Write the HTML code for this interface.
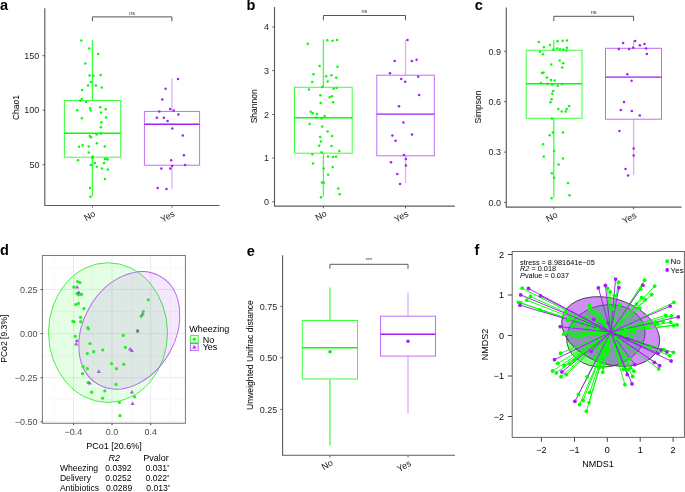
<!DOCTYPE html>
<html><head><meta charset="utf-8"><style>
html,body{margin:0;padding:0;background:#fff;}
svg{display:block;will-change:transform;}
svg text{font-family:"Liberation Sans",sans-serif;}
</style></head><body>
<svg width="685" height="492" viewBox="0 0 685 492" font-family="Liberation Sans, sans-serif">
<rect width="685" height="492" fill="#fff"/>
<text x="0" y="10" font-size="14.5" font-weight="bold" fill="#000">a</text>
<line x1="92.4" y1="40.2" x2="92.4" y2="100.5" stroke="#40ff40" stroke-width="1.3" />
<line x1="92.4" y1="157.2" x2="92.4" y2="196.6" stroke="#40ff40" stroke-width="1.3" />
<rect x="64.4" y="100.5" width="56.3" height="56.7" fill="none" stroke="#3cff3c" stroke-width="1"/>
<line x1="64.4" y1="133.2" x2="120.7" y2="133.2" stroke="#00ff00" stroke-width="1.4" />
<circle cx="81.3" cy="40.6" r="1.25" fill="#00ff00"/>
<circle cx="89.2" cy="48.6" r="1.25" fill="#00ff00"/>
<circle cx="98.1" cy="53.9" r="1.25" fill="#00ff00"/>
<circle cx="85.3" cy="63.6" r="1.25" fill="#00ff00"/>
<circle cx="89.6" cy="75.4" r="1.25" fill="#00ff00"/>
<circle cx="93.3" cy="75.8" r="1.25" fill="#00ff00"/>
<circle cx="100.6" cy="75" r="1.25" fill="#00ff00"/>
<circle cx="90.8" cy="81.9" r="1.25" fill="#00ff00"/>
<circle cx="88" cy="85.6" r="1.25" fill="#00ff00"/>
<circle cx="95.9" cy="85.6" r="1.25" fill="#00ff00"/>
<circle cx="101.8" cy="87.6" r="1.25" fill="#00ff00"/>
<circle cx="82.1" cy="90" r="1.25" fill="#00ff00"/>
<circle cx="81.7" cy="99" r="1.25" fill="#00ff00"/>
<circle cx="80.2" cy="100.7" r="1.25" fill="#00ff00"/>
<circle cx="86.1" cy="102.1" r="1.25" fill="#00ff00"/>
<circle cx="77.2" cy="110.2" r="1.25" fill="#00ff00"/>
<circle cx="90.2" cy="108.2" r="1.25" fill="#00ff00"/>
<circle cx="90.8" cy="110.6" r="1.25" fill="#00ff00"/>
<circle cx="100.2" cy="107.2" r="1.25" fill="#00ff00"/>
<circle cx="105.7" cy="109.2" r="1.25" fill="#00ff00"/>
<circle cx="101" cy="112.5" r="1.25" fill="#00ff00"/>
<circle cx="81.9" cy="118.2" r="1.25" fill="#00ff00"/>
<circle cx="106.1" cy="117.4" r="1.25" fill="#00ff00"/>
<circle cx="101.4" cy="122.2" r="1.25" fill="#00ff00"/>
<circle cx="100.8" cy="127.3" r="1.25" fill="#00ff00"/>
<circle cx="89.8" cy="136.1" r="1.25" fill="#00ff00"/>
<circle cx="91" cy="137.3" r="1.25" fill="#00ff00"/>
<circle cx="96.5" cy="134.6" r="1.25" fill="#00ff00"/>
<circle cx="101" cy="133.6" r="1.25" fill="#00ff00"/>
<circle cx="96.9" cy="143.2" r="1.25" fill="#00ff00"/>
<circle cx="82.7" cy="145.2" r="1.25" fill="#00ff00"/>
<circle cx="79" cy="146.8" r="1.25" fill="#00ff00"/>
<circle cx="88.8" cy="146.6" r="1.25" fill="#00ff00"/>
<circle cx="104.8" cy="146.6" r="1.25" fill="#00ff00"/>
<circle cx="88.8" cy="152.5" r="1.25" fill="#00ff00"/>
<circle cx="92.8" cy="156.6" r="1.25" fill="#00ff00"/>
<circle cx="92.4" cy="158" r="1.25" fill="#00ff00"/>
<circle cx="105" cy="159" r="1.25" fill="#00ff00"/>
<circle cx="107.7" cy="159.6" r="1.25" fill="#00ff00"/>
<circle cx="106.5" cy="158.4" r="1.25" fill="#00ff00"/>
<circle cx="78" cy="160.2" r="1.25" fill="#00ff00"/>
<circle cx="94.9" cy="163.1" r="1.25" fill="#00ff00"/>
<circle cx="104" cy="163.1" r="1.25" fill="#00ff00"/>
<circle cx="90.8" cy="165.1" r="1.25" fill="#00ff00"/>
<circle cx="96.9" cy="166.7" r="1.25" fill="#00ff00"/>
<circle cx="102" cy="168.6" r="1.25" fill="#00ff00"/>
<circle cx="107.9" cy="169.6" r="1.25" fill="#00ff00"/>
<circle cx="105" cy="179.1" r="1.25" fill="#00ff00"/>
<circle cx="90" cy="188.1" r="1.25" fill="#00ff00"/>
<circle cx="90.4" cy="196.8" r="1.25" fill="#00ff00"/>
<line x1="171.9" y1="78.5" x2="171.9" y2="111.4" stroke="#dbaef8" stroke-width="1.3" />
<line x1="171.9" y1="165.2" x2="171.9" y2="188.8" stroke="#dbaef8" stroke-width="1.3" />
<rect x="144.4" y="111.4" width="55.2" height="53.8" fill="none" stroke="#bf6ff3" stroke-width="1"/>
<line x1="144.4" y1="124.3" x2="199.6" y2="124.3" stroke="#a020f0" stroke-width="1.4" />
<circle cx="178" cy="78.9" r="1.25" fill="#a020f0"/>
<circle cx="165.6" cy="88.8" r="1.25" fill="#a020f0"/>
<circle cx="162.3" cy="99.5" r="1.25" fill="#a020f0"/>
<circle cx="170.1" cy="108.9" r="1.25" fill="#a020f0"/>
<circle cx="173.7" cy="110.5" r="1.25" fill="#a020f0"/>
<circle cx="159.3" cy="111.6" r="1.25" fill="#a020f0"/>
<circle cx="178.4" cy="114.5" r="1.25" fill="#a020f0"/>
<circle cx="156.9" cy="117.8" r="1.25" fill="#a020f0"/>
<circle cx="163.8" cy="117.8" r="1.25" fill="#a020f0"/>
<circle cx="167.6" cy="121" r="1.25" fill="#a020f0"/>
<circle cx="172.3" cy="128.4" r="1.25" fill="#a020f0"/>
<circle cx="182.8" cy="135.5" r="1.25" fill="#a020f0"/>
<circle cx="183.9" cy="155.2" r="1.25" fill="#a020f0"/>
<circle cx="171.2" cy="160.3" r="1.25" fill="#a020f0"/>
<circle cx="185.1" cy="165" r="1.25" fill="#a020f0"/>
<circle cx="172.1" cy="166.1" r="1.25" fill="#a020f0"/>
<circle cx="161.4" cy="168.4" r="1.25" fill="#a020f0"/>
<circle cx="170.3" cy="168.4" r="1.25" fill="#a020f0"/>
<circle cx="157.7" cy="187.9" r="1.25" fill="#a020f0"/>
<circle cx="166.5" cy="189.1" r="1.25" fill="#a020f0"/>
<path d="M44.8,8.2 V205.45 H219.7" fill="none" stroke="#5c5c5c" stroke-width="1.15"/>
<line x1="42.6" y1="55.7" x2="44.8" y2="55.7" stroke="#5c5c5c" stroke-width="1" />
<text x="39.4" y="58.9" font-size="9" text-anchor="end" fill="#1e1e1e" >150</text>
<line x1="42.6" y1="110.2" x2="44.8" y2="110.2" stroke="#5c5c5c" stroke-width="1" />
<text x="39.4" y="113.4" font-size="9" text-anchor="end" fill="#1e1e1e" >100</text>
<line x1="42.6" y1="164.7" x2="44.8" y2="164.7" stroke="#5c5c5c" stroke-width="1" />
<text x="39.4" y="167.9" font-size="9" text-anchor="end" fill="#1e1e1e" >50</text>
<line x1="92.4" y1="205.45" x2="92.4" y2="207.65" stroke="#5c5c5c" stroke-width="1" />
<line x1="171.9" y1="205.45" x2="171.9" y2="207.65" stroke="#5c5c5c" stroke-width="1" />
<text transform="translate(15.7,107.5) rotate(-90)" x="0" y="0" font-size="8.5" text-anchor="middle" dominant-baseline="central" fill="#000" >Chao1</text>
<path d="M92.4,21.3 V16.9 H171.9 V21.3" fill="none" stroke="#555" stroke-width="1"/>
<text x="132.15" y="14.6" font-size="5.5" text-anchor="middle" fill="#333" >ns</text>
<text transform="translate(96.2,215.5) rotate(-30)" x="0" y="0" font-size="9" text-anchor="end" fill="#1e1e1e">No</text>
<text transform="translate(175.5,215.5) rotate(-30)" x="0" y="0" font-size="9" text-anchor="end" fill="#1e1e1e">Yes</text>
<text x="246.4" y="10" font-size="14.5" font-weight="bold" fill="#000">b</text>
<line x1="323.4" y1="39.3" x2="323.4" y2="87.3" stroke="#40ff40" stroke-width="1.3" />
<line x1="323.4" y1="153.2" x2="323.4" y2="196.6" stroke="#40ff40" stroke-width="1.3" />
<rect x="294.5" y="87.3" width="57.7" height="65.9" fill="none" stroke="#3cff3c" stroke-width="1"/>
<line x1="294.5" y1="117.8" x2="352.2" y2="117.8" stroke="#00ff00" stroke-width="1.4" />
<circle cx="307.8" cy="43.7" r="1.25" fill="#00ff00"/>
<circle cx="327.3" cy="40.3" r="1.25" fill="#00ff00"/>
<circle cx="332.6" cy="40.7" r="1.25" fill="#00ff00"/>
<circle cx="337.1" cy="39.9" r="1.25" fill="#00ff00"/>
<circle cx="319.6" cy="66.1" r="1.25" fill="#00ff00"/>
<circle cx="337.5" cy="66.7" r="1.25" fill="#00ff00"/>
<circle cx="313.5" cy="74.2" r="1.25" fill="#00ff00"/>
<circle cx="326.1" cy="76.3" r="1.25" fill="#00ff00"/>
<circle cx="331.4" cy="75.2" r="1.25" fill="#00ff00"/>
<circle cx="336.2" cy="77.7" r="1.25" fill="#00ff00"/>
<circle cx="312.2" cy="82" r="1.25" fill="#00ff00"/>
<circle cx="327.7" cy="81.4" r="1.25" fill="#00ff00"/>
<circle cx="322.2" cy="87" r="1.25" fill="#00ff00"/>
<circle cx="309" cy="89.5" r="1.25" fill="#00ff00"/>
<circle cx="333.6" cy="88.7" r="1.25" fill="#00ff00"/>
<circle cx="336.7" cy="87.9" r="1.25" fill="#00ff00"/>
<circle cx="320.4" cy="95.2" r="1.25" fill="#00ff00"/>
<circle cx="329.7" cy="97.2" r="1.25" fill="#00ff00"/>
<circle cx="332" cy="96.2" r="1.25" fill="#00ff00"/>
<circle cx="320.7" cy="103" r="1.25" fill="#00ff00"/>
<circle cx="333.1" cy="102.2" r="1.25" fill="#00ff00"/>
<circle cx="310.7" cy="111.7" r="1.25" fill="#00ff00"/>
<circle cx="312.8" cy="113.3" r="1.25" fill="#00ff00"/>
<circle cx="317" cy="113.9" r="1.25" fill="#00ff00"/>
<circle cx="324.6" cy="116" r="1.25" fill="#00ff00"/>
<circle cx="316.2" cy="117.6" r="1.25" fill="#00ff00"/>
<circle cx="321.5" cy="118.4" r="1.25" fill="#00ff00"/>
<circle cx="309.7" cy="124.1" r="1.25" fill="#00ff00"/>
<circle cx="322.2" cy="126.4" r="1.25" fill="#00ff00"/>
<circle cx="327.6" cy="131.4" r="1.25" fill="#00ff00"/>
<circle cx="332.1" cy="135.9" r="1.25" fill="#00ff00"/>
<circle cx="320.1" cy="136.9" r="1.25" fill="#00ff00"/>
<circle cx="320.9" cy="141.6" r="1.25" fill="#00ff00"/>
<circle cx="319.1" cy="145.7" r="1.25" fill="#00ff00"/>
<circle cx="331.5" cy="146.1" r="1.25" fill="#00ff00"/>
<circle cx="339.4" cy="150.9" r="1.25" fill="#00ff00"/>
<circle cx="321.6" cy="152.3" r="1.25" fill="#00ff00"/>
<circle cx="312.4" cy="154.2" r="1.25" fill="#00ff00"/>
<circle cx="328" cy="156.6" r="1.25" fill="#00ff00"/>
<circle cx="333.1" cy="157" r="1.25" fill="#00ff00"/>
<circle cx="336.1" cy="156.8" r="1.25" fill="#00ff00"/>
<circle cx="313" cy="163.5" r="1.25" fill="#00ff00"/>
<circle cx="323.7" cy="168.4" r="1.25" fill="#00ff00"/>
<circle cx="332.7" cy="167" r="1.25" fill="#00ff00"/>
<circle cx="328.2" cy="174.7" r="1.25" fill="#00ff00"/>
<circle cx="322" cy="182.4" r="1.25" fill="#00ff00"/>
<circle cx="323.8" cy="182.7" r="1.25" fill="#00ff00"/>
<circle cx="338.2" cy="188.4" r="1.25" fill="#00ff00"/>
<circle cx="339.7" cy="194.3" r="1.25" fill="#00ff00"/>
<circle cx="321" cy="197.2" r="1.25" fill="#00ff00"/>
<line x1="405.5" y1="40.1" x2="405.5" y2="75.2" stroke="#dbaef8" stroke-width="1.3" />
<line x1="405.5" y1="155.8" x2="405.5" y2="183.2" stroke="#dbaef8" stroke-width="1.3" />
<rect x="376.8" y="75.2" width="57.5" height="80.6" fill="none" stroke="#bf6ff3" stroke-width="1"/>
<line x1="376.8" y1="114.1" x2="434.3" y2="114.1" stroke="#a020f0" stroke-width="1.4" />
<circle cx="407.5" cy="40.1" r="1.25" fill="#a020f0"/>
<circle cx="394.7" cy="61.1" r="1.25" fill="#a020f0"/>
<circle cx="411.9" cy="61.1" r="1.25" fill="#a020f0"/>
<circle cx="416.6" cy="59.8" r="1.25" fill="#a020f0"/>
<circle cx="390" cy="73.2" r="1.25" fill="#a020f0"/>
<circle cx="401.2" cy="79" r="1.25" fill="#a020f0"/>
<circle cx="405.2" cy="81.7" r="1.25" fill="#a020f0"/>
<circle cx="418.2" cy="76.8" r="1.25" fill="#a020f0"/>
<circle cx="419.1" cy="94.9" r="1.25" fill="#a020f0"/>
<circle cx="399" cy="106.3" r="1.25" fill="#a020f0"/>
<circle cx="403.4" cy="122.5" r="1.25" fill="#a020f0"/>
<circle cx="392.4" cy="135.6" r="1.25" fill="#a020f0"/>
<circle cx="412" cy="134.4" r="1.25" fill="#a020f0"/>
<circle cx="395.6" cy="140.7" r="1.25" fill="#a020f0"/>
<circle cx="403.9" cy="155.1" r="1.25" fill="#a020f0"/>
<circle cx="405.9" cy="159" r="1.25" fill="#a020f0"/>
<circle cx="391" cy="162.2" r="1.25" fill="#a020f0"/>
<circle cx="405.9" cy="165.6" r="1.25" fill="#a020f0"/>
<circle cx="397.3" cy="173.9" r="1.25" fill="#a020f0"/>
<circle cx="400" cy="183.9" r="1.25" fill="#a020f0"/>
<path d="M274.5,7.1 V206.05 H454.9" fill="none" stroke="#5c5c5c" stroke-width="1.15"/>
<line x1="272.3" y1="27" x2="274.5" y2="27" stroke="#5c5c5c" stroke-width="1" />
<text x="269.1" y="30.2" font-size="9" text-anchor="end" fill="#1e1e1e" >4</text>
<line x1="272.3" y1="70.6" x2="274.5" y2="70.6" stroke="#5c5c5c" stroke-width="1" />
<text x="269.1" y="73.8" font-size="9" text-anchor="end" fill="#1e1e1e" >3</text>
<line x1="272.3" y1="114.5" x2="274.5" y2="114.5" stroke="#5c5c5c" stroke-width="1" />
<text x="269.1" y="117.7" font-size="9" text-anchor="end" fill="#1e1e1e" >2</text>
<line x1="272.3" y1="158" x2="274.5" y2="158" stroke="#5c5c5c" stroke-width="1" />
<text x="269.1" y="161.2" font-size="9" text-anchor="end" fill="#1e1e1e" >1</text>
<line x1="272.3" y1="201.8" x2="274.5" y2="201.8" stroke="#5c5c5c" stroke-width="1" />
<text x="269.1" y="205" font-size="9" text-anchor="end" fill="#1e1e1e" >0</text>
<line x1="323.4" y1="206.05" x2="323.4" y2="208.25" stroke="#5c5c5c" stroke-width="1" />
<line x1="405.5" y1="206.05" x2="405.5" y2="208.25" stroke="#5c5c5c" stroke-width="1" />
<text transform="translate(254.2,106.3) rotate(-90)" x="0" y="0" font-size="8.5" text-anchor="middle" dominant-baseline="central" fill="#000" >Shannon</text>
<path d="M323.4,20.3 V15.5 H405.5 V20.3" fill="none" stroke="#555" stroke-width="1"/>
<text x="364.45" y="13.2" font-size="5.5" text-anchor="middle" fill="#333" >ns</text>
<text transform="translate(327.4,215.2) rotate(-30)" x="0" y="0" font-size="9" text-anchor="end" fill="#1e1e1e">No</text>
<text transform="translate(409.2,215.5) rotate(-30)" x="0" y="0" font-size="9" text-anchor="end" fill="#1e1e1e">Yes</text>
<text x="474.7" y="10" font-size="14.5" font-weight="bold" fill="#000">c</text>
<line x1="553.8" y1="40.3" x2="553.8" y2="50.2" stroke="#40ff40" stroke-width="1.3" />
<line x1="553.8" y1="118.3" x2="553.8" y2="197.6" stroke="#40ff40" stroke-width="1.3" />
<rect x="526.2" y="50.2" width="55.8" height="68.1" fill="none" stroke="#3cff3c" stroke-width="1"/>
<line x1="526.2" y1="83.7" x2="582" y2="83.7" stroke="#00ff00" stroke-width="1.4" />
<circle cx="538.8" cy="42.1" r="1.25" fill="#00ff00"/>
<circle cx="543.9" cy="47.2" r="1.25" fill="#00ff00"/>
<circle cx="550" cy="45.1" r="1.25" fill="#00ff00"/>
<circle cx="557.5" cy="41.3" r="1.25" fill="#00ff00"/>
<circle cx="562.6" cy="40.7" r="1.25" fill="#00ff00"/>
<circle cx="566.9" cy="40.5" r="1.25" fill="#00ff00"/>
<circle cx="557.1" cy="48.4" r="1.25" fill="#00ff00"/>
<circle cx="553.4" cy="49.4" r="1.25" fill="#00ff00"/>
<circle cx="560" cy="49.2" r="1.25" fill="#00ff00"/>
<circle cx="563.2" cy="49.4" r="1.25" fill="#00ff00"/>
<circle cx="566.9" cy="47.8" r="1.25" fill="#00ff00"/>
<circle cx="566.5" cy="50.4" r="1.25" fill="#00ff00"/>
<circle cx="540" cy="51.7" r="1.25" fill="#00ff00"/>
<circle cx="542.9" cy="54.3" r="1.25" fill="#00ff00"/>
<circle cx="559.7" cy="60.4" r="1.25" fill="#00ff00"/>
<circle cx="563.2" cy="63.2" r="1.25" fill="#00ff00"/>
<circle cx="551.2" cy="64.5" r="1.25" fill="#00ff00"/>
<circle cx="562.2" cy="67.5" r="1.25" fill="#00ff00"/>
<circle cx="542" cy="73" r="1.25" fill="#00ff00"/>
<circle cx="543.5" cy="72.6" r="1.25" fill="#00ff00"/>
<circle cx="546.9" cy="77.5" r="1.25" fill="#00ff00"/>
<circle cx="551" cy="79.9" r="1.25" fill="#00ff00"/>
<circle cx="554.7" cy="80.5" r="1.25" fill="#00ff00"/>
<circle cx="541" cy="83" r="1.25" fill="#00ff00"/>
<circle cx="547.5" cy="84" r="1.25" fill="#00ff00"/>
<circle cx="552.2" cy="84.6" r="1.25" fill="#00ff00"/>
<circle cx="557.7" cy="85.8" r="1.25" fill="#00ff00"/>
<circle cx="562.2" cy="84" r="1.25" fill="#00ff00"/>
<circle cx="553.2" cy="91.1" r="1.25" fill="#00ff00"/>
<circle cx="552.2" cy="93.8" r="1.25" fill="#00ff00"/>
<circle cx="551.6" cy="99.2" r="1.25" fill="#00ff00"/>
<circle cx="550.5" cy="102.2" r="1.25" fill="#00ff00"/>
<circle cx="558.4" cy="108.9" r="1.25" fill="#00ff00"/>
<circle cx="561.7" cy="111.5" r="1.25" fill="#00ff00"/>
<circle cx="565.7" cy="111.5" r="1.25" fill="#00ff00"/>
<circle cx="566.7" cy="108.9" r="1.25" fill="#00ff00"/>
<circle cx="569.2" cy="106" r="1.25" fill="#00ff00"/>
<circle cx="551.9" cy="118.6" r="1.25" fill="#00ff00"/>
<circle cx="552.9" cy="132.6" r="1.25" fill="#00ff00"/>
<circle cx="549.7" cy="135.3" r="1.25" fill="#00ff00"/>
<circle cx="562.9" cy="132.4" r="1.25" fill="#00ff00"/>
<circle cx="543" cy="144.2" r="1.25" fill="#00ff00"/>
<circle cx="554.1" cy="150.9" r="1.25" fill="#00ff00"/>
<circle cx="543.8" cy="156.4" r="1.25" fill="#00ff00"/>
<circle cx="562.9" cy="158.5" r="1.25" fill="#00ff00"/>
<circle cx="558.6" cy="164.6" r="1.25" fill="#00ff00"/>
<circle cx="551.9" cy="173.3" r="1.25" fill="#00ff00"/>
<circle cx="554.1" cy="177.8" r="1.25" fill="#00ff00"/>
<circle cx="568" cy="183.1" r="1.25" fill="#00ff00"/>
<circle cx="551.6" cy="198.3" r="1.25" fill="#00ff00"/>
<circle cx="569.5" cy="195.2" r="1.25" fill="#00ff00"/>
<line x1="633.6" y1="40.5" x2="633.6" y2="48.3" stroke="#dbaef8" stroke-width="1.3" />
<line x1="633.6" y1="119.2" x2="633.6" y2="174.8" stroke="#dbaef8" stroke-width="1.3" />
<rect x="605.5" y="48.3" width="56" height="70.9" fill="none" stroke="#bf6ff3" stroke-width="1"/>
<line x1="605.5" y1="77.1" x2="661.5" y2="77.1" stroke="#a020f0" stroke-width="1.4" />
<circle cx="635.1" cy="40.9" r="1.25" fill="#a020f0"/>
<circle cx="623.1" cy="42.9" r="1.25" fill="#a020f0"/>
<circle cx="639.8" cy="45.2" r="1.25" fill="#a020f0"/>
<circle cx="644.5" cy="44" r="1.25" fill="#a020f0"/>
<circle cx="618.8" cy="49" r="1.25" fill="#a020f0"/>
<circle cx="629.1" cy="49" r="1.25" fill="#a020f0"/>
<circle cx="633.1" cy="47.8" r="1.25" fill="#a020f0"/>
<circle cx="646.1" cy="48.5" r="1.25" fill="#a020f0"/>
<circle cx="646.8" cy="54.1" r="1.25" fill="#a020f0"/>
<circle cx="627.3" cy="74.2" r="1.25" fill="#a020f0"/>
<circle cx="631.6" cy="80.7" r="1.25" fill="#a020f0"/>
<circle cx="624" cy="102" r="1.25" fill="#a020f0"/>
<circle cx="620.8" cy="110" r="1.25" fill="#a020f0"/>
<circle cx="631.8" cy="111.1" r="1.25" fill="#a020f0"/>
<circle cx="639.8" cy="115.6" r="1.25" fill="#a020f0"/>
<circle cx="619.4" cy="130.9" r="1.25" fill="#a020f0"/>
<circle cx="633.7" cy="148.4" r="1.25" fill="#a020f0"/>
<circle cx="633.7" cy="155.5" r="1.25" fill="#a020f0"/>
<circle cx="625.5" cy="169" r="1.25" fill="#a020f0"/>
<circle cx="628.1" cy="175.6" r="1.25" fill="#a020f0"/>
<path d="M506.3,7.5 V207.05 H681.6" fill="none" stroke="#5c5c5c" stroke-width="1.15"/>
<line x1="504.1" y1="51.3" x2="506.3" y2="51.3" stroke="#5c5c5c" stroke-width="1" />
<text x="500.9" y="54.5" font-size="9" text-anchor="end" fill="#1e1e1e" >0.9</text>
<line x1="504.1" y1="101.7" x2="506.3" y2="101.7" stroke="#5c5c5c" stroke-width="1" />
<text x="500.9" y="104.9" font-size="9" text-anchor="end" fill="#1e1e1e" >0.6</text>
<line x1="504.1" y1="152.1" x2="506.3" y2="152.1" stroke="#5c5c5c" stroke-width="1" />
<text x="500.9" y="155.3" font-size="9" text-anchor="end" fill="#1e1e1e" >0.3</text>
<line x1="504.1" y1="202.5" x2="506.3" y2="202.5" stroke="#5c5c5c" stroke-width="1" />
<text x="500.9" y="205.7" font-size="9" text-anchor="end" fill="#1e1e1e" >0.0</text>
<line x1="553.8" y1="207.05" x2="553.8" y2="209.25" stroke="#5c5c5c" stroke-width="1" />
<line x1="633.6" y1="207.05" x2="633.6" y2="209.25" stroke="#5c5c5c" stroke-width="1" />
<text transform="translate(478.4,107) rotate(-90)" x="0" y="0" font-size="8.5" text-anchor="middle" dominant-baseline="central" fill="#000" >Simpson</text>
<path d="M553.8,21 V16.3 H633.6 V21" fill="none" stroke="#555" stroke-width="1"/>
<text x="593.7" y="13.8" font-size="5.5" text-anchor="middle" fill="#333" >ns</text>
<text transform="translate(558.3,216.5) rotate(-30)" x="0" y="0" font-size="9" text-anchor="end" fill="#1e1e1e">No</text>
<text transform="translate(637.2,217) rotate(-30)" x="0" y="0" font-size="9" text-anchor="end" fill="#1e1e1e">Yes</text>
<text x="0" y="255.3" font-size="14.5" font-weight="bold" fill="#000">d</text>
<rect x="42.4" y="255.5" width="143" height="167.8" fill="#fff"/>
<line x1="53.9" y1="255.5" x2="53.9" y2="423.3" stroke="#f3f3f3" stroke-width="0.6" />
<line x1="92.5" y1="255.5" x2="92.5" y2="423.3" stroke="#f3f3f3" stroke-width="0.6" />
<line x1="131.7" y1="255.5" x2="131.7" y2="423.3" stroke="#f3f3f3" stroke-width="0.6" />
<line x1="170.5" y1="255.5" x2="170.5" y2="423.3" stroke="#f3f3f3" stroke-width="0.6" />
<line x1="42.4" y1="267.5" x2="185.4" y2="267.5" stroke="#f3f3f3" stroke-width="0.6" />
<line x1="42.4" y1="311.5" x2="185.4" y2="311.5" stroke="#f3f3f3" stroke-width="0.6" />
<line x1="42.4" y1="355.7" x2="185.4" y2="355.7" stroke="#f3f3f3" stroke-width="0.6" />
<line x1="42.4" y1="399.8" x2="185.4" y2="399.8" stroke="#f3f3f3" stroke-width="0.6" />
<line x1="73.5" y1="255.5" x2="73.5" y2="423.3" stroke="#ebebeb" stroke-width="1" />
<line x1="112" y1="255.5" x2="112" y2="423.3" stroke="#ebebeb" stroke-width="1" />
<line x1="150.7" y1="255.5" x2="150.7" y2="423.3" stroke="#ebebeb" stroke-width="1" />
<line x1="42.4" y1="289.5" x2="185.4" y2="289.5" stroke="#ebebeb" stroke-width="1" />
<line x1="42.4" y1="333.6" x2="185.4" y2="333.6" stroke="#ebebeb" stroke-width="1" />
<line x1="42.4" y1="377.7" x2="185.4" y2="377.7" stroke="#ebebeb" stroke-width="1" />
<line x1="42.4" y1="421.8" x2="185.4" y2="421.8" stroke="#ebebeb" stroke-width="1" />
<ellipse cx="108" cy="332.6" rx="59.5" ry="69.85" fill="rgba(0,255,0,0.1)" stroke="#33ee33" stroke-width="0.9"/>
<ellipse cx="0" cy="0" rx="62.36" ry="46" transform="translate(129.3,330.4) rotate(-60.1)" fill="rgba(160,32,240,0.1)" stroke="#b45ef2" stroke-width="0.9"/>
<circle cx="77.5" cy="281.5" r="1.6" fill="#22ee22"/>
<circle cx="79.9" cy="282.6" r="1.6" fill="#22ee22"/>
<circle cx="73.8" cy="287.1" r="1.6" fill="#22ee22"/>
<circle cx="77.1" cy="293.4" r="1.6" fill="#22ee22"/>
<circle cx="78.4" cy="294.8" r="1.6" fill="#22ee22"/>
<circle cx="81.5" cy="294.4" r="1.6" fill="#22ee22"/>
<circle cx="75.7" cy="304.5" r="1.6" fill="#22ee22"/>
<circle cx="78.4" cy="303.4" r="1.6" fill="#22ee22"/>
<circle cx="83.9" cy="308.7" r="1.6" fill="#22ee22"/>
<circle cx="80.6" cy="317.3" r="1.6" fill="#22ee22"/>
<circle cx="72.9" cy="321.3" r="1.6" fill="#22ee22"/>
<circle cx="74" cy="321.9" r="1.6" fill="#22ee22"/>
<circle cx="80.6" cy="321.7" r="1.6" fill="#22ee22"/>
<circle cx="87.9" cy="327.7" r="1.6" fill="#22ee22"/>
<circle cx="88.5" cy="329" r="1.6" fill="#22ee22"/>
<circle cx="75.3" cy="336.3" r="1.6" fill="#22ee22"/>
<circle cx="123.2" cy="335.4" r="1.6" fill="#22ee22"/>
<circle cx="148.2" cy="299.8" r="1.6" fill="#22ee22"/>
<circle cx="143.3" cy="311.5" r="1.6" fill="#22ee22"/>
<circle cx="141.2" cy="316.3" r="1.6" fill="#22ee22"/>
<circle cx="137.7" cy="330.7" r="1.6" fill="#22ee22"/>
<circle cx="89.9" cy="343.5" r="1.6" fill="#22ee22"/>
<circle cx="125.4" cy="347.3" r="1.6" fill="#22ee22"/>
<circle cx="87.4" cy="353.5" r="1.6" fill="#22ee22"/>
<circle cx="93.7" cy="351.7" r="1.6" fill="#22ee22"/>
<circle cx="102.8" cy="350" r="1.6" fill="#22ee22"/>
<circle cx="111.5" cy="363.6" r="1.6" fill="#22ee22"/>
<circle cx="116.5" cy="368.7" r="1.6" fill="#22ee22"/>
<circle cx="123.8" cy="364.3" r="1.6" fill="#22ee22"/>
<circle cx="83.1" cy="366.5" r="1.6" fill="#22ee22"/>
<circle cx="87.4" cy="368.7" r="1.6" fill="#22ee22"/>
<circle cx="82.5" cy="373.7" r="1.6" fill="#22ee22"/>
<circle cx="88.1" cy="382.6" r="1.6" fill="#22ee22"/>
<circle cx="116" cy="384.4" r="1.6" fill="#22ee22"/>
<circle cx="104.8" cy="390.9" r="1.6" fill="#22ee22"/>
<circle cx="91.6" cy="392.2" r="1.6" fill="#22ee22"/>
<circle cx="134.6" cy="396.9" r="1.6" fill="#22ee22"/>
<circle cx="102.6" cy="398.2" r="1.6" fill="#22ee22"/>
<circle cx="119.4" cy="402.3" r="1.6" fill="#22ee22"/>
<circle cx="120" cy="415.7" r="1.6" fill="#22ee22"/>
<path d="M77.1,285 L79.2,288.6 L75,288.6 Z" fill="#a040e8" fill-opacity="0.85"/>
<path d="M78.8,290.3 L80.9,293.9 L76.7,293.9 Z" fill="#a040e8" fill-opacity="0.85"/>
<path d="M142.5,311.8 L144.6,315.4 L140.4,315.4 Z" fill="#a040e8" fill-opacity="0.85"/>
<path d="M137.6,329 L139.7,332.6 L135.5,332.6 Z" fill="#a040e8" fill-opacity="0.85"/>
<path d="M76.9,338.5 L79,342.1 L74.8,342.1 Z" fill="#a040e8" fill-opacity="0.85"/>
<path d="M76.2,341.8 L78.3,345.4 L74.1,345.4 Z" fill="#a040e8" fill-opacity="0.85"/>
<path d="M130.1,347 L132.2,350.6 L128,350.6 Z" fill="#a040e8" fill-opacity="0.85"/>
<path d="M131.9,348.5 L134,352.1 L129.8,352.1 Z" fill="#a040e8" fill-opacity="0.85"/>
<path d="M98.8,369.3 L100.9,372.9 L96.7,372.9 Z" fill="#a040e8" fill-opacity="0.85"/>
<path d="M89.6,380.9 L91.7,384.5 L87.5,384.5 Z" fill="#a040e8" fill-opacity="0.85"/>
<path d="M131.9,389.9 L134,393.5 L129.8,393.5 Z" fill="#a040e8" fill-opacity="0.85"/>
<path d="M132.6,401.3 L134.7,404.9 L130.5,404.9 Z" fill="#a040e8" fill-opacity="0.85"/>
<rect x="42.4" y="255.5" width="143" height="167.8" fill="none" stroke="#7a7a7a" stroke-width="1"/>
<line x1="40.6" y1="289.5" x2="42.4" y2="289.5" stroke="#333" stroke-width="0.9" />
<text x="37.6" y="292.7" font-size="9" text-anchor="end" fill="#4d4d4d" >0.25</text>
<line x1="40.6" y1="333.6" x2="42.4" y2="333.6" stroke="#333" stroke-width="0.9" />
<text x="37.6" y="336.8" font-size="9" text-anchor="end" fill="#4d4d4d" >0.00</text>
<line x1="40.6" y1="377.7" x2="42.4" y2="377.7" stroke="#333" stroke-width="0.9" />
<text x="37.6" y="380.9" font-size="9" text-anchor="end" fill="#4d4d4d" >−0.25</text>
<line x1="40.6" y1="421.8" x2="42.4" y2="421.8" stroke="#333" stroke-width="0.9" />
<text x="37.6" y="425" font-size="9" text-anchor="end" fill="#4d4d4d" >−0.50</text>
<line x1="73.5" y1="423.3" x2="73.5" y2="425.1" stroke="#333" stroke-width="0.9" />
<text x="73.5" y="434.7" font-size="9" text-anchor="middle" fill="#4d4d4d" >−0.4</text>
<line x1="112" y1="423.3" x2="112" y2="425.1" stroke="#333" stroke-width="0.9" />
<text x="112" y="434.7" font-size="9" text-anchor="middle" fill="#4d4d4d" >0.0</text>
<line x1="150.7" y1="423.3" x2="150.7" y2="425.1" stroke="#333" stroke-width="0.9" />
<text x="150.7" y="434.7" font-size="9" text-anchor="middle" fill="#4d4d4d" >0.4</text>
<text x="114" y="449" font-size="9" text-anchor="middle" fill="#000" >PCo1 [20.6%]</text>
<text transform="translate(4.3,338.7) rotate(-90)" x="0" y="0" font-size="8.6" text-anchor="middle" dominant-baseline="central" fill="#000" >PCo2 [9.3%]</text>
<text x="189.2" y="332" font-size="9" text-anchor="start" fill="#000" >Wheezing</text>
<rect x="190.4" y="335.6" width="7.8" height="7.2" fill="#e6ffe6" stroke="#33ee33" stroke-width="0.9"/>
<circle cx="194.3" cy="339.2" r="1.6" fill="#22ee22"/>
<rect x="190.4" y="343.4" width="7.8" height="7.2" fill="#f5e8fd" stroke="#b45ef2" stroke-width="0.9"/>
<path d="M194.3,344.9 L196.4,348.5 L192.2,348.5 Z" fill="#a040e8"/>
<text x="202.7" y="342.6" font-size="9" text-anchor="start" fill="#000" >No</text>
<text x="202.7" y="350" font-size="9" text-anchor="start" fill="#000" >Yes</text>
<text x="114.3" y="461" font-size="9" text-anchor="middle" fill="#000" ><tspan font-style="italic">R2</tspan></text>
<text x="156" y="461" font-size="9" text-anchor="middle" fill="#000" >Pvalor</text>
<text x="59.9" y="471" font-size="8.6" text-anchor="start" fill="#000" >Wheezing</text>
<text x="105.3" y="471" font-size="8.6" text-anchor="start" fill="#000" >0.0392</text>
<text x="145.5" y="471" font-size="8.6" text-anchor="start" fill="#000" >0.031<tspan font-size="6" dy="-2.5">*</tspan></text>
<text x="59.9" y="481.2" font-size="8.6" text-anchor="start" fill="#000" >Delivery</text>
<text x="105.3" y="481.2" font-size="8.6" text-anchor="start" fill="#000" >0.0252</text>
<text x="145.5" y="481.2" font-size="8.6" text-anchor="start" fill="#000" >0.022<tspan font-size="6" dy="-2.5">*</tspan></text>
<text x="59.9" y="491.4" font-size="8.6" text-anchor="start" fill="#000" >Antibiotics</text>
<text x="105.9" y="491.4" font-size="8.6" text-anchor="start" fill="#000" >0.0289</text>
<text x="146.3" y="491.4" font-size="8.6" text-anchor="start" fill="#000" >0.013<tspan font-size="6" dy="-2.5">*</tspan></text>
<text x="246.8" y="255.6" font-size="14.5" font-weight="bold" fill="#000">e</text>
<line x1="329.9" y1="287.6" x2="329.9" y2="320.5" stroke="#40ff40" stroke-width="1.3" />
<line x1="329.9" y1="379" x2="329.9" y2="445.6" stroke="#40ff40" stroke-width="1.3" />
<rect x="302.3" y="320.5" width="55.2" height="58.5" fill="none" stroke="#3cff3c" stroke-width="1"/>
<line x1="302.3" y1="347.8" x2="357.5" y2="347.8" stroke="#00ff00" stroke-width="1.4" />
<circle cx="330" cy="351.7" r="1.7" fill="#00ee00"/>
<line x1="408" y1="292.5" x2="408" y2="316.2" stroke="#dbaef8" stroke-width="1.3" />
<line x1="408" y1="356.1" x2="408" y2="413.6" stroke="#dbaef8" stroke-width="1.3" />
<rect x="380.5" y="316.2" width="55" height="39.9" fill="none" stroke="#bf6ff3" stroke-width="1"/>
<line x1="380.5" y1="334.3" x2="435.5" y2="334.3" stroke="#a020f0" stroke-width="1.4" />
<circle cx="408" cy="341.2" r="1.7" fill="#a020f0"/>
<path d="M282.6,255.2 V455.2 H455" fill="none" stroke="#5c5c5c" stroke-width="1.1"/>
<line x1="280.4" y1="306.4" x2="282.6" y2="306.4" stroke="#5c5c5c" stroke-width="1" />
<text x="277.2" y="309.6" font-size="9" text-anchor="end" fill="#1e1e1e" >0.75</text>
<line x1="280.4" y1="357.8" x2="282.6" y2="357.8" stroke="#5c5c5c" stroke-width="1" />
<text x="277.2" y="361" font-size="9" text-anchor="end" fill="#1e1e1e" >0.50</text>
<line x1="280.4" y1="409.4" x2="282.6" y2="409.4" stroke="#5c5c5c" stroke-width="1" />
<text x="277.2" y="412.6" font-size="9" text-anchor="end" fill="#1e1e1e" >0.25</text>
<line x1="329.9" y1="455.2" x2="329.9" y2="457.4" stroke="#5c5c5c" stroke-width="1" />
<line x1="408" y1="455.2" x2="408" y2="457.4" stroke="#5c5c5c" stroke-width="1" />
<text transform="translate(333.6,464.5) rotate(-30)" x="0" y="0" font-size="9" text-anchor="end" fill="#1e1e1e">No</text>
<text transform="translate(412,465) rotate(-30)" x="0" y="0" font-size="9" text-anchor="end" fill="#1e1e1e">Yes</text>
<text transform="translate(250,355) rotate(-90)" x="0" y="0" font-size="8.65" text-anchor="middle" dominant-baseline="central" fill="#000" >Unweighted Unifrac distance</text>
<path d="M329.9,268.8 V264.3 H408 V268.8" fill="none" stroke="#5c5c5c" stroke-width="1"/>
<text x="368.9" y="261.5" font-size="5.5" text-anchor="middle" fill="#333" >***</text>
<text x="474.5" y="254.6" font-size="14.5" font-weight="bold" fill="#000">f</text>
<ellipse cx="0" cy="0" rx="39.53" ry="30.83" transform="translate(605.84,335.88) rotate(-11.6)" fill="rgba(0,255,0,0.5)" stroke="#333" stroke-width="0.8"/>
<ellipse cx="0" cy="0" rx="50.47" ry="32.7" transform="translate(610.7,331.48) rotate(18.3)" fill="rgba(160,32,240,0.5)" stroke="#333" stroke-width="0.8"/>
<line x1="610" y1="332.8" x2="522.2" y2="288.2" stroke="#00ff00" stroke-width="0.95"/>
<line x1="610" y1="332.8" x2="530.5" y2="296.5" stroke="#00ff00" stroke-width="0.95"/>
<line x1="610" y1="332.8" x2="526.8" y2="300.2" stroke="#00ff00" stroke-width="0.95"/>
<line x1="610" y1="332.8" x2="518.5" y2="302.3" stroke="#00ff00" stroke-width="0.95"/>
<line x1="610" y1="332.8" x2="520.7" y2="302.9" stroke="#00ff00" stroke-width="0.95"/>
<line x1="610" y1="332.8" x2="539.6" y2="309.9" stroke="#00ff00" stroke-width="0.95"/>
<line x1="610" y1="332.8" x2="565.37" y2="312.2" stroke="#00ff00" stroke-width="0.95"/>
<line x1="610" y1="332.8" x2="567.7" y2="320.47" stroke="#00ff00" stroke-width="0.95"/>
<line x1="610" y1="332.8" x2="563.57" y2="334.07" stroke="#00ff00" stroke-width="0.95"/>
<line x1="610" y1="332.8" x2="567.93" y2="331.83" stroke="#00ff00" stroke-width="0.95"/>
<line x1="610" y1="332.8" x2="618.5" y2="282.2" stroke="#00ff00" stroke-width="0.95"/>
<line x1="610" y1="332.8" x2="607.6" y2="288.3" stroke="#00ff00" stroke-width="0.95"/>
<line x1="610" y1="332.8" x2="610.2" y2="292" stroke="#00ff00" stroke-width="0.95"/>
<line x1="610" y1="332.8" x2="614.3" y2="295.6" stroke="#00ff00" stroke-width="0.95"/>
<line x1="610" y1="332.8" x2="619.8" y2="304.9" stroke="#00ff00" stroke-width="0.95"/>
<line x1="610" y1="332.8" x2="612.7" y2="309.2" stroke="#00ff00" stroke-width="0.95"/>
<line x1="610" y1="332.8" x2="589.35" y2="305.45" stroke="#00ff00" stroke-width="0.95"/>
<line x1="610" y1="332.8" x2="589.6" y2="308.9" stroke="#00ff00" stroke-width="0.95"/>
<line x1="610" y1="332.8" x2="593.1" y2="311.85" stroke="#00ff00" stroke-width="0.95"/>
<line x1="610" y1="332.8" x2="587.2" y2="316.6" stroke="#00ff00" stroke-width="0.95"/>
<line x1="610" y1="332.8" x2="598.15" y2="313.7" stroke="#00ff00" stroke-width="0.95"/>
<line x1="610" y1="332.8" x2="600.45" y2="316.35" stroke="#00ff00" stroke-width="0.95"/>
<line x1="610" y1="332.8" x2="603.5" y2="321.15" stroke="#00ff00" stroke-width="0.95"/>
<line x1="610" y1="332.8" x2="597.3" y2="320.6" stroke="#00ff00" stroke-width="0.95"/>
<line x1="610" y1="332.8" x2="570.5" y2="318.8" stroke="#00ff00" stroke-width="0.95"/>
<line x1="610" y1="332.8" x2="572" y2="326" stroke="#00ff00" stroke-width="0.95"/>
<line x1="610" y1="332.8" x2="644.7" y2="280.2" stroke="#00ff00" stroke-width="0.95"/>
<line x1="610" y1="332.8" x2="640.7" y2="288.9" stroke="#00ff00" stroke-width="0.95"/>
<line x1="610" y1="332.8" x2="654.7" y2="286.1" stroke="#00ff00" stroke-width="0.95"/>
<line x1="610" y1="332.8" x2="651.7" y2="294.7" stroke="#00ff00" stroke-width="0.95"/>
<line x1="610" y1="332.8" x2="641.5" y2="297.7" stroke="#00ff00" stroke-width="0.95"/>
<line x1="610" y1="332.8" x2="645.1" y2="299.7" stroke="#00ff00" stroke-width="0.95"/>
<line x1="610" y1="332.8" x2="636.5" y2="304.1" stroke="#00ff00" stroke-width="0.95"/>
<line x1="610" y1="332.8" x2="639.8" y2="308.3" stroke="#00ff00" stroke-width="0.95"/>
<line x1="610" y1="332.8" x2="673.9" y2="302.4" stroke="#00ff00" stroke-width="0.95"/>
<line x1="610" y1="332.8" x2="665.6" y2="315.3" stroke="#00ff00" stroke-width="0.95"/>
<line x1="610" y1="332.8" x2="671.5" y2="316" stroke="#00ff00" stroke-width="0.95"/>
<line x1="610" y1="332.8" x2="662.9" y2="321.3" stroke="#00ff00" stroke-width="0.95"/>
<line x1="610" y1="332.8" x2="670.6" y2="322.2" stroke="#00ff00" stroke-width="0.95"/>
<line x1="610" y1="332.8" x2="673.5" y2="325.5" stroke="#00ff00" stroke-width="0.95"/>
<line x1="610" y1="332.8" x2="677.1" y2="324.8" stroke="#00ff00" stroke-width="0.95"/>
<line x1="610" y1="332.8" x2="655.1" y2="323" stroke="#00ff00" stroke-width="0.95"/>
<line x1="610" y1="332.8" x2="657.4" y2="323.9" stroke="#00ff00" stroke-width="0.95"/>
<line x1="610" y1="332.8" x2="625.4" y2="328.65" stroke="#00ff00" stroke-width="0.95"/>
<line x1="610" y1="332.8" x2="633.75" y2="331.95" stroke="#00ff00" stroke-width="0.95"/>
<line x1="610" y1="332.8" x2="631.03" y2="336.1" stroke="#00ff00" stroke-width="0.95"/>
<line x1="610" y1="332.8" x2="620.23" y2="341.18" stroke="#00ff00" stroke-width="0.95"/>
<line x1="610" y1="332.8" x2="650.1" y2="347.7" stroke="#00ff00" stroke-width="0.95"/>
<line x1="610" y1="332.8" x2="663.6" y2="349.7" stroke="#00ff00" stroke-width="0.95"/>
<line x1="610" y1="332.8" x2="673.5" y2="352.4" stroke="#00ff00" stroke-width="0.95"/>
<line x1="610" y1="332.8" x2="669.7" y2="355.7" stroke="#00ff00" stroke-width="0.95"/>
<line x1="610" y1="332.8" x2="658.7" y2="368.9" stroke="#00ff00" stroke-width="0.95"/>
<line x1="610" y1="332.8" x2="629.9" y2="358.95" stroke="#00ff00" stroke-width="0.95"/>
<line x1="610" y1="332.8" x2="623.4" y2="369.43" stroke="#00ff00" stroke-width="0.95"/>
<line x1="610" y1="332.8" x2="627.35" y2="369.85" stroke="#00ff00" stroke-width="0.95"/>
<line x1="610" y1="332.8" x2="630.55" y2="367.95" stroke="#00ff00" stroke-width="0.95"/>
<line x1="610" y1="332.8" x2="633.9" y2="371.2" stroke="#00ff00" stroke-width="0.95"/>
<line x1="610" y1="332.8" x2="632.7" y2="376.5" stroke="#00ff00" stroke-width="0.95"/>
<line x1="610" y1="332.8" x2="624.93" y2="384.7" stroke="#00ff00" stroke-width="0.95"/>
<line x1="610" y1="332.8" x2="573" y2="335.35" stroke="#00ff00" stroke-width="0.95"/>
<line x1="610" y1="332.8" x2="577.9" y2="336.85" stroke="#00ff00" stroke-width="0.95"/>
<line x1="610" y1="332.8" x2="583.8" y2="334" stroke="#00ff00" stroke-width="0.95"/>
<line x1="610" y1="332.8" x2="598.2" y2="347.95" stroke="#00ff00" stroke-width="0.95"/>
<line x1="610" y1="332.8" x2="608.63" y2="348.8" stroke="#00ff00" stroke-width="0.95"/>
<line x1="610" y1="332.8" x2="607.93" y2="354.4" stroke="#00ff00" stroke-width="0.95"/>
<line x1="610" y1="332.8" x2="603.35" y2="356.05" stroke="#00ff00" stroke-width="0.95"/>
<line x1="610" y1="332.8" x2="594.35" y2="358.1" stroke="#00ff00" stroke-width="0.95"/>
<line x1="610" y1="332.8" x2="599.35" y2="360.05" stroke="#00ff00" stroke-width="0.95"/>
<line x1="610" y1="332.8" x2="615.9" y2="337.97" stroke="#00ff00" stroke-width="0.95"/>
<line x1="610" y1="332.8" x2="620.75" y2="364" stroke="#00ff00" stroke-width="0.95"/>
<line x1="610" y1="332.8" x2="602.85" y2="372.1" stroke="#00ff00" stroke-width="0.95"/>
<line x1="610" y1="332.8" x2="599.05" y2="367.5" stroke="#00ff00" stroke-width="0.95"/>
<line x1="610" y1="332.8" x2="574.5" y2="360.4" stroke="#00ff00" stroke-width="0.95"/>
<line x1="610" y1="332.8" x2="560.6" y2="353.25" stroke="#00ff00" stroke-width="0.95"/>
<line x1="610" y1="332.8" x2="569.9" y2="364.1" stroke="#00ff00" stroke-width="0.95"/>
<line x1="610" y1="332.8" x2="564.05" y2="365.7" stroke="#00ff00" stroke-width="0.95"/>
<line x1="610" y1="332.8" x2="566.2" y2="374.7" stroke="#00ff00" stroke-width="0.95"/>
<line x1="610" y1="332.8" x2="561" y2="376.75" stroke="#00ff00" stroke-width="0.95"/>
<line x1="610" y1="332.8" x2="587.1" y2="376.9" stroke="#00ff00" stroke-width="0.95"/>
<line x1="610" y1="332.8" x2="578.5" y2="394.4" stroke="#00ff00" stroke-width="0.95"/>
<line x1="610" y1="332.8" x2="589.7" y2="392.5" stroke="#00ff00" stroke-width="0.95"/>
<line x1="610" y1="332.8" x2="583.1" y2="400.4" stroke="#00ff00" stroke-width="0.95"/>
<line x1="610" y1="332.8" x2="579.6" y2="404.6" stroke="#00ff00" stroke-width="0.95"/>
<line x1="610" y1="332.8" x2="589.1" y2="402.6" stroke="#00ff00" stroke-width="0.95"/>
<line x1="610" y1="332.8" x2="586.4" y2="411.2" stroke="#00ff00" stroke-width="0.95"/>
<line x1="610" y1="332.8" x2="557.8" y2="363.3" stroke="#00ff00" stroke-width="0.95"/>
<line x1="610" y1="332.8" x2="552.6" y2="371" stroke="#00ff00" stroke-width="0.95"/>
<line x1="610" y1="332.8" x2="556.3" y2="372.9" stroke="#00ff00" stroke-width="0.95"/>
<line x1="610" y1="332.8" x2="625.1" y2="335.2" stroke="#00ff00" stroke-width="0.95"/>
<line x1="610" y1="332.8" x2="597.5" y2="329.1" stroke="#00ff00" stroke-width="0.95"/>
<line x1="610" y1="332.8" x2="602.8" y2="367.3" stroke="#00ff00" stroke-width="0.95"/>
<line x1="610.7" y1="332.2" x2="528.5" y2="288.5" stroke="#a020f0" stroke-width="0.95"/>
<line x1="610.7" y1="332.2" x2="520.7" y2="294.9" stroke="#a020f0" stroke-width="0.95"/>
<line x1="610.7" y1="332.2" x2="540.5" y2="295.9" stroke="#a020f0" stroke-width="0.95"/>
<line x1="610.7" y1="332.2" x2="520" y2="305.2" stroke="#a020f0" stroke-width="0.95"/>
<line x1="610.7" y1="332.2" x2="560.3" y2="326.65" stroke="#a020f0" stroke-width="0.95"/>
<line x1="610.7" y1="332.2" x2="615.6" y2="279.1" stroke="#a020f0" stroke-width="0.95"/>
<line x1="610.7" y1="332.2" x2="618.9" y2="287.7" stroke="#a020f0" stroke-width="0.95"/>
<line x1="610.7" y1="332.2" x2="598.4" y2="287.9" stroke="#a020f0" stroke-width="0.95"/>
<line x1="610.7" y1="332.2" x2="605.4" y2="285.5" stroke="#a020f0" stroke-width="0.95"/>
<line x1="610.7" y1="332.2" x2="593.7" y2="319.35" stroke="#a020f0" stroke-width="0.95"/>
<line x1="610.7" y1="332.2" x2="608.23" y2="322.9" stroke="#a020f0" stroke-width="0.95"/>
<line x1="610.7" y1="332.2" x2="642.9" y2="285.2" stroke="#a020f0" stroke-width="0.95"/>
<line x1="610.7" y1="332.2" x2="670.2" y2="306.1" stroke="#a020f0" stroke-width="0.95"/>
<line x1="610.7" y1="332.2" x2="678.3" y2="316.9" stroke="#a020f0" stroke-width="0.95"/>
<line x1="610.7" y1="332.2" x2="627.87" y2="339.4" stroke="#a020f0" stroke-width="0.95"/>
<line x1="610.7" y1="332.2" x2="661" y2="350.1" stroke="#a020f0" stroke-width="0.95"/>
<line x1="610.7" y1="332.2" x2="666.9" y2="352" stroke="#a020f0" stroke-width="0.95"/>
<line x1="610.7" y1="332.2" x2="658" y2="353.3" stroke="#a020f0" stroke-width="0.95"/>
<line x1="610.7" y1="332.2" x2="671.1" y2="361" stroke="#a020f0" stroke-width="0.95"/>
<line x1="610.7" y1="332.2" x2="654.4" y2="362.3" stroke="#a020f0" stroke-width="0.95"/>
<line x1="610.7" y1="332.2" x2="659.6" y2="365.6" stroke="#a020f0" stroke-width="0.95"/>
<line x1="610.7" y1="332.2" x2="634.85" y2="364.65" stroke="#a020f0" stroke-width="0.95"/>
<line x1="610.7" y1="332.2" x2="627.25" y2="374.65" stroke="#a020f0" stroke-width="0.95"/>
<line x1="610.7" y1="332.2" x2="632" y2="383.9" stroke="#a020f0" stroke-width="0.95"/>
<line x1="610.7" y1="332.2" x2="591.13" y2="351.43" stroke="#a020f0" stroke-width="0.95"/>
<line x1="610.7" y1="332.2" x2="561.9" y2="372" stroke="#a020f0" stroke-width="0.95"/>
<line x1="610.7" y1="332.2" x2="574.9" y2="401.3" stroke="#a020f0" stroke-width="0.95"/>
<line x1="610.7" y1="332.2" x2="554.5" y2="359.7" stroke="#a020f0" stroke-width="0.95"/>
<circle cx="522.2" cy="288.2" r="1.9" fill="#00ff00"/>
<circle cx="530.5" cy="296.5" r="1.9" fill="#00ff00"/>
<circle cx="526.8" cy="300.2" r="1.9" fill="#00ff00"/>
<circle cx="518.5" cy="302.3" r="1.9" fill="#00ff00"/>
<circle cx="520.7" cy="302.9" r="1.9" fill="#00ff00"/>
<circle cx="539.6" cy="309.9" r="1.9" fill="#00ff00"/>
<circle cx="565.37" cy="312.2" r="1.9" fill="#00ff00"/>
<circle cx="567.7" cy="320.47" r="1.9" fill="#00ff00"/>
<circle cx="563.57" cy="334.07" r="1.9" fill="#00ff00"/>
<circle cx="567.93" cy="331.83" r="1.9" fill="#00ff00"/>
<circle cx="618.5" cy="282.2" r="1.9" fill="#00ff00"/>
<circle cx="607.6" cy="288.3" r="1.9" fill="#00ff00"/>
<circle cx="610.2" cy="292" r="1.9" fill="#00ff00"/>
<circle cx="614.3" cy="295.6" r="1.9" fill="#00ff00"/>
<circle cx="619.8" cy="304.9" r="1.9" fill="#00ff00"/>
<circle cx="612.7" cy="309.2" r="1.9" fill="#00ff00"/>
<circle cx="589.35" cy="305.45" r="1.9" fill="#00ff00"/>
<circle cx="589.6" cy="308.9" r="1.9" fill="#00ff00"/>
<circle cx="593.1" cy="311.85" r="1.9" fill="#00ff00"/>
<circle cx="587.2" cy="316.6" r="1.9" fill="#00ff00"/>
<circle cx="598.15" cy="313.7" r="1.9" fill="#00ff00"/>
<circle cx="600.45" cy="316.35" r="1.9" fill="#00ff00"/>
<circle cx="603.5" cy="321.15" r="1.9" fill="#00ff00"/>
<circle cx="597.3" cy="320.6" r="1.9" fill="#00ff00"/>
<circle cx="570.5" cy="318.8" r="1.9" fill="#00ff00"/>
<circle cx="572" cy="326" r="1.9" fill="#00ff00"/>
<circle cx="644.7" cy="280.2" r="1.9" fill="#00ff00"/>
<circle cx="640.7" cy="288.9" r="1.9" fill="#00ff00"/>
<circle cx="654.7" cy="286.1" r="1.9" fill="#00ff00"/>
<circle cx="651.7" cy="294.7" r="1.9" fill="#00ff00"/>
<circle cx="641.5" cy="297.7" r="1.9" fill="#00ff00"/>
<circle cx="645.1" cy="299.7" r="1.9" fill="#00ff00"/>
<circle cx="636.5" cy="304.1" r="1.9" fill="#00ff00"/>
<circle cx="639.8" cy="308.3" r="1.9" fill="#00ff00"/>
<circle cx="673.9" cy="302.4" r="1.9" fill="#00ff00"/>
<circle cx="665.6" cy="315.3" r="1.9" fill="#00ff00"/>
<circle cx="671.5" cy="316" r="1.9" fill="#00ff00"/>
<circle cx="662.9" cy="321.3" r="1.9" fill="#00ff00"/>
<circle cx="670.6" cy="322.2" r="1.9" fill="#00ff00"/>
<circle cx="673.5" cy="325.5" r="1.9" fill="#00ff00"/>
<circle cx="677.1" cy="324.8" r="1.9" fill="#00ff00"/>
<circle cx="655.1" cy="323" r="1.9" fill="#00ff00"/>
<circle cx="657.4" cy="323.9" r="1.9" fill="#00ff00"/>
<circle cx="625.4" cy="328.65" r="1.9" fill="#00ff00"/>
<circle cx="633.75" cy="331.95" r="1.9" fill="#00ff00"/>
<circle cx="631.03" cy="336.1" r="1.9" fill="#00ff00"/>
<circle cx="620.23" cy="341.18" r="1.9" fill="#00ff00"/>
<circle cx="650.1" cy="347.7" r="1.9" fill="#00ff00"/>
<circle cx="663.6" cy="349.7" r="1.9" fill="#00ff00"/>
<circle cx="673.5" cy="352.4" r="1.9" fill="#00ff00"/>
<circle cx="669.7" cy="355.7" r="1.9" fill="#00ff00"/>
<circle cx="658.7" cy="368.9" r="1.9" fill="#00ff00"/>
<circle cx="629.9" cy="358.95" r="1.9" fill="#00ff00"/>
<circle cx="623.4" cy="369.43" r="1.9" fill="#00ff00"/>
<circle cx="627.35" cy="369.85" r="1.9" fill="#00ff00"/>
<circle cx="630.55" cy="367.95" r="1.9" fill="#00ff00"/>
<circle cx="633.9" cy="371.2" r="1.9" fill="#00ff00"/>
<circle cx="632.7" cy="376.5" r="1.9" fill="#00ff00"/>
<circle cx="624.93" cy="384.7" r="1.9" fill="#00ff00"/>
<circle cx="573" cy="335.35" r="1.9" fill="#00ff00"/>
<circle cx="577.9" cy="336.85" r="1.9" fill="#00ff00"/>
<circle cx="583.8" cy="334" r="1.9" fill="#00ff00"/>
<circle cx="598.2" cy="347.95" r="1.9" fill="#00ff00"/>
<circle cx="608.63" cy="348.8" r="1.9" fill="#00ff00"/>
<circle cx="607.93" cy="354.4" r="1.9" fill="#00ff00"/>
<circle cx="603.35" cy="356.05" r="1.9" fill="#00ff00"/>
<circle cx="594.35" cy="358.1" r="1.9" fill="#00ff00"/>
<circle cx="599.35" cy="360.05" r="1.9" fill="#00ff00"/>
<circle cx="615.9" cy="337.97" r="1.9" fill="#00ff00"/>
<circle cx="620.75" cy="364" r="1.9" fill="#00ff00"/>
<circle cx="602.85" cy="372.1" r="1.9" fill="#00ff00"/>
<circle cx="599.05" cy="367.5" r="1.9" fill="#00ff00"/>
<circle cx="574.5" cy="360.4" r="1.9" fill="#00ff00"/>
<circle cx="560.6" cy="353.25" r="1.9" fill="#00ff00"/>
<circle cx="569.9" cy="364.1" r="1.9" fill="#00ff00"/>
<circle cx="564.05" cy="365.7" r="1.9" fill="#00ff00"/>
<circle cx="566.2" cy="374.7" r="1.9" fill="#00ff00"/>
<circle cx="561" cy="376.75" r="1.9" fill="#00ff00"/>
<circle cx="587.1" cy="376.9" r="1.9" fill="#00ff00"/>
<circle cx="578.5" cy="394.4" r="1.9" fill="#00ff00"/>
<circle cx="589.7" cy="392.5" r="1.9" fill="#00ff00"/>
<circle cx="583.1" cy="400.4" r="1.9" fill="#00ff00"/>
<circle cx="579.6" cy="404.6" r="1.9" fill="#00ff00"/>
<circle cx="589.1" cy="402.6" r="1.9" fill="#00ff00"/>
<circle cx="586.4" cy="411.2" r="1.9" fill="#00ff00"/>
<circle cx="557.8" cy="363.3" r="1.9" fill="#00ff00"/>
<circle cx="552.6" cy="371" r="1.9" fill="#00ff00"/>
<circle cx="556.3" cy="372.9" r="1.9" fill="#00ff00"/>
<circle cx="625.1" cy="335.2" r="1.9" fill="#00ff00"/>
<circle cx="597.5" cy="329.1" r="1.9" fill="#00ff00"/>
<circle cx="602.8" cy="367.3" r="1.9" fill="#00ff00"/>
<circle cx="528.5" cy="288.5" r="1.9" fill="#a020f0"/>
<circle cx="520.7" cy="294.9" r="1.9" fill="#a020f0"/>
<circle cx="540.5" cy="295.9" r="1.9" fill="#a020f0"/>
<circle cx="520" cy="305.2" r="1.9" fill="#a020f0"/>
<circle cx="560.3" cy="326.65" r="1.9" fill="#a020f0"/>
<circle cx="615.6" cy="279.1" r="1.9" fill="#a020f0"/>
<circle cx="618.9" cy="287.7" r="1.9" fill="#a020f0"/>
<circle cx="598.4" cy="287.9" r="1.9" fill="#a020f0"/>
<circle cx="605.4" cy="285.5" r="1.9" fill="#a020f0"/>
<circle cx="593.7" cy="319.35" r="1.9" fill="#a020f0"/>
<circle cx="608.23" cy="322.9" r="1.9" fill="#a020f0"/>
<circle cx="642.9" cy="285.2" r="1.9" fill="#a020f0"/>
<circle cx="670.2" cy="306.1" r="1.9" fill="#a020f0"/>
<circle cx="678.3" cy="316.9" r="1.9" fill="#a020f0"/>
<circle cx="627.87" cy="339.4" r="1.9" fill="#a020f0"/>
<circle cx="661" cy="350.1" r="1.9" fill="#a020f0"/>
<circle cx="666.9" cy="352" r="1.9" fill="#a020f0"/>
<circle cx="658" cy="353.3" r="1.9" fill="#a020f0"/>
<circle cx="671.1" cy="361" r="1.9" fill="#a020f0"/>
<circle cx="654.4" cy="362.3" r="1.9" fill="#a020f0"/>
<circle cx="659.6" cy="365.6" r="1.9" fill="#a020f0"/>
<circle cx="634.85" cy="364.65" r="1.9" fill="#a020f0"/>
<circle cx="627.25" cy="374.65" r="1.9" fill="#a020f0"/>
<circle cx="632" cy="383.9" r="1.9" fill="#a020f0"/>
<circle cx="591.13" cy="351.43" r="1.9" fill="#a020f0"/>
<circle cx="561.9" cy="372" r="1.9" fill="#a020f0"/>
<circle cx="574.9" cy="401.3" r="1.9" fill="#a020f0"/>
<circle cx="554.5" cy="359.7" r="1.9" fill="#a020f0"/>
<rect x="512.2" y="251.5" width="172.2" height="185.9" fill="none" stroke="#666" stroke-width="1"/>
<line x1="507.9" y1="254.5" x2="512.2" y2="254.5" stroke="#444" stroke-width="1" />
<text x="503.9" y="257.7" font-size="9" text-anchor="end" fill="#000" >2</text>
<line x1="507.9" y1="295" x2="512.2" y2="295" stroke="#444" stroke-width="1" />
<text x="503.9" y="298.2" font-size="9" text-anchor="end" fill="#000" >1</text>
<line x1="507.9" y1="335.5" x2="512.2" y2="335.5" stroke="#444" stroke-width="1" />
<text x="503.9" y="338.7" font-size="9" text-anchor="end" fill="#000" >0</text>
<line x1="507.9" y1="376" x2="512.2" y2="376" stroke="#444" stroke-width="1" />
<text x="503.9" y="379.2" font-size="9" text-anchor="end" fill="#000" >−1</text>
<line x1="507.9" y1="416.5" x2="512.2" y2="416.5" stroke="#444" stroke-width="1" />
<text x="503.9" y="419.7" font-size="9" text-anchor="end" fill="#000" >−2</text>
<line x1="541.4" y1="437.4" x2="541.4" y2="441.8" stroke="#444" stroke-width="1" />
<text x="541.4" y="452.7" font-size="9" text-anchor="middle" fill="#000" >−2</text>
<line x1="574.5" y1="437.4" x2="574.5" y2="441.8" stroke="#444" stroke-width="1" />
<text x="574.5" y="452.7" font-size="9" text-anchor="middle" fill="#000" >−1</text>
<line x1="607.3" y1="437.4" x2="607.3" y2="441.8" stroke="#444" stroke-width="1" />
<text x="607.3" y="452.7" font-size="9" text-anchor="middle" fill="#000" >0</text>
<line x1="640.2" y1="437.4" x2="640.2" y2="441.8" stroke="#444" stroke-width="1" />
<text x="640.2" y="452.7" font-size="9" text-anchor="middle" fill="#000" >1</text>
<line x1="673.1" y1="437.4" x2="673.1" y2="441.8" stroke="#444" stroke-width="1" />
<text x="673.1" y="452.7" font-size="9" text-anchor="middle" fill="#000" >2</text>
<text x="598" y="467" font-size="9" text-anchor="middle" fill="#000" >NMDS1</text>
<text transform="translate(485,344.5) rotate(-90)" x="0" y="0" font-size="9" text-anchor="middle" dominant-baseline="central" fill="#000" >NMDS2</text>
<text x="520.1" y="265" font-size="7.3" text-anchor="start" fill="#000" >stress = 8.981641e−05</text>
<text x="520.1" y="271.3" font-size="7.3" text-anchor="start" fill="#000" ><tspan font-style="italic">R2</tspan> = 0.018</text>
<text x="520.1" y="278" font-size="7.3" text-anchor="start" fill="#000" ><tspan font-style="italic">P</tspan>value = 0.037</text>
<circle cx="667.2" cy="261.2" r="1.9" fill="#00ff00"/>
<circle cx="667.2" cy="270" r="1.9" fill="#a020f0"/>
<text x="670.6" y="264.2" font-size="8" text-anchor="start" fill="#000" >No</text>
<text x="670.6" y="273" font-size="8" text-anchor="start" fill="#000" >Yes</text>
</svg>
</body></html>
